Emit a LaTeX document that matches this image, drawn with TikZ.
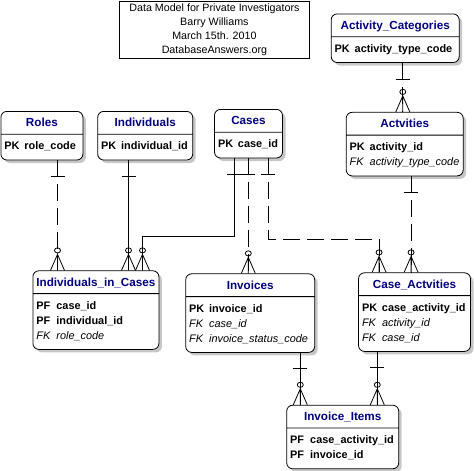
\documentclass[tikz,border=0pt]{standalone}
\usepackage{fontspec}
\setmainfont{Liberation Sans}
\usepackage{xcolor}
\usetikzlibrary{positioning,shapes.multipart,shadows}
\definecolor{titleblue}{RGB}{0,0,128}

\begin{document}
\begin{tikzpicture}[x=1pt,y=-1pt]
      \tikzset{entity/.style={rectangle split,rectangle split parts=2,draw,line width=0.8pt,rounded corners=6pt,fill=white,inner xsep=3.5pt,inner ysep=0pt,align=left,font=\fontsize{10.9}{15}\selectfont,general shadow={fill=black!22,shadow xshift=3pt,shadow yshift=-3pt}}}
      \tikzset{heading/.style={draw,line width=0.8pt,minimum width=190pt,minimum height=57pt,align=center,inner sep=0pt,font=\fontsize{10.7}{14}\selectfont}}
      \tikzset{rel/.style={line width=0.8pt}}
      \tikzset{optrel/.style={rel,dash pattern=on 17pt off 7pt}}
      \tikzset{one/.pic={\draw[solid,line width=0.8pt] (-7,16) -- (7,16);}}
      \tikzset{many/.pic={\draw[solid,line width=0.8pt] (0,-20) ellipse (3pt and 2.6pt) (-7,0) -- (0,-16) -- (7,0) (0,-16) -- (0,0);}}
      \def\etitle#1{\hbox to\hsize{\hfil\rule[-7pt]{0pt}{22pt}\textcolor{titleblue}{\fontsize{11.7}{14}\selectfont\bfseries #1}\hfil}}
      \def\pkey#1#2{\makebox[20pt][l]{\bfseries #1}\textbf{#2}}
      \def\fkey#1{\makebox[20pt][l]{\itshape FK}\textit{#1}}
      \def\toprow{\rule{0pt}{15pt}}
      \def\botrow{\rule[-10pt]{0pt}{10pt}}

      \useasboundingbox (0,0) rectangle (474,471);

      \node[heading,anchor=north west] (title) at (119,0.5) {Data Model for Private Investigators\\Barry Williams\\March 15th. 2010\\DatabaseAnswers.org};

      \node[entity,text width=121pt,below right=13pt and 21pt of title.north east] (actcat) {\etitle{Activity\_Categories}\nodepart{two}\toprow\pkey{PK}{activity\_type\_code}\botrow};
      \node[entity,text width=110pt,below right=49pt and 15pt of actcat.south west] (actv) {\etitle{Actvities}\nodepart{two}\toprow\pkey{PK}{activity\_id}\\\fkey{activity\_type\_code}\botrow};

      \node[entity,text width=75pt,anchor=north west] (roles) at (0.5,111) {\etitle{Roles}\nodepart{two}\toprow\pkey{PK}{role\_code}\botrow};
      \node[entity,text width=88pt,right=14pt of roles] (indiv) {\etitle{Individuals}\nodepart{two}\toprow\pkey{PK}{individual\_id}\botrow};
      \node[entity,text width=61pt,right=21pt of indiv,yshift=2pt] (cases) {\etitle{Cases}\nodepart{two}\toprow\pkey{PK}{case\_id}\botrow};

      \node[entity,text width=119pt,below right=110pt and 32pt of roles.south west] (iic) {\etitle{Individuals\_in\_Cases}\nodepart{two}\toprow\pkey{PF}{case\_id}\\\pkey{PF}{individual\_id}\\\fkey{role\_code}\botrow};
      \node[entity,text width=122pt,right=26pt of iic,yshift=-3pt] (invoices) {\etitle{Invoices}\nodepart{two}\toprow\pkey{PK}{invoice\_id}\\\fkey{case\_id}\\\fkey{invoice\_status\_code}\botrow};
      \node[entity,text width=105pt,right=43pt of invoices,yshift=1pt] (caseact) {\etitle{Case\_Actvities}\nodepart{two}\toprow\pkey{PK}{case\_activity\_id}\\\fkey{activity\_id}\\\fkey{case\_id}\botrow};

      \node[entity,text width=105pt,below right=52pt and 101pt of invoices.south west] (invitems) {\etitle{Invoice\_Items}\nodepart{two}\toprow\pkey{PF}{case\_activity\_id}\\\pkey{PF}{invoice\_id}\botrow};

      % link end points
      \coordinate (rl) at ([xshift=25pt]iic.north west);
      \coordinate (ind) at ([xshift=96pt]iic.north west);
      \coordinate (ci) at ([xshift=110pt]iic.north west);
      \coordinate (cs1) at ([xshift=20pt]cases.south west);
      \coordinate (cs2) at ([xshift=54pt]cases.south west);
      \coordinate (iv) at ([xshift=63pt]invoices.north west);
      \coordinate (ca1) at ([xshift=21pt]caseact.north west);
      \coordinate (ca2) at ([xshift=53pt]caseact.north west);
      \coordinate (av) at ([xshift=57pt]actv.north west);
      \coordinate (ii1) at ([xshift=14pt]invitems.north west);
      \coordinate (ii2) at ([xshift=91pt]invitems.north west);

      \draw[optrel] (rl |- roles.south) pic{one} -- (rl) pic{many};
      \draw[rel] (ind |- indiv.south) pic{one} -- (ind) pic{many};
      \draw[rel] (cs1) pic{one} -- ++(0,78) -| (ci) pic{many};
      \draw[optrel] (iv |- cases.south) pic{one} -- (iv) pic{many};
      \draw[optrel] (cs2) pic{one} -- ++(0,81) -| (ca1) pic{many};
      \draw[optrel] (ca2 |- actv.south) pic{one} -- (ca2) pic{many};
      \draw[optrel] (av |- actcat.south) pic{one} -- (av) pic{many};
      \draw[rel] (ii1 |- invoices.south) pic{one} -- (ii1) pic{many};
      \draw[rel] (ii2 |- caseact.south) pic{one} -- (ii2) pic{many};
\end{tikzpicture}
\end{document}
